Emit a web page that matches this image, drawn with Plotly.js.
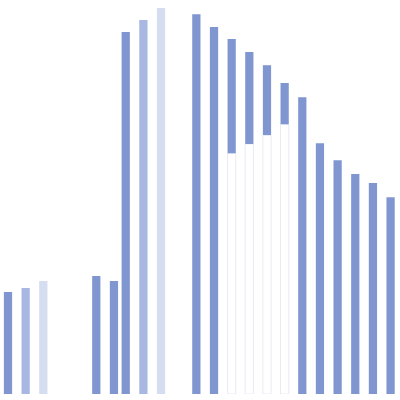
<!DOCTYPE html>
<html>
<head>
<meta charset="utf-8">
<script src="https://cdn.plot.ly/plotly-3.0.1.min.js"></script>
<style>
  html, body { margin: 0; padding: 0; background: #fff; }
  #chart { width: 400px; height: 400px; }
</style>
</head>
<body>
<div id="chart"></div>
<script>
// positions along the x axis (steps of 3 = one bar slot)
const xMain = [0, 15, 18, 20, 32, 35, 38, 41, 44, 47, 50, 53, 56, 59, 62, 65];
const mainTop = [26.4, 30.6, 29.3, 93.8, 98.4, 95.1, 92.0, 88.6, 85.2, 80.6, 76.9, 65.0, 60.6, 57.0, 54.7, 51.0];
const mainLow = [0, 0, 0, 0, 0, 0, 62.4, 64.8, 67.1, 69.9, 0, 0, 0, 0, 0, 0];

const xSecond = [3, 23];
const secondVals = [27.5, 96.9];

const xThird = [6, 26];
const thirdVals = [29.3, 100];

const barWidth = 1.4;

// invisible spacer under the floating bars, only its outline shows
const spacer = {
  type: 'bar',
  x: xMain,
  y: mainLow,
  width: barWidth,
  marker: { color: 'rgba(0,0,0,0)', line: { color: '#e9ebf4', width: 1 } },
  hoverinfo: 'skip',
};

const main = {
  type: 'bar',
  x: xMain,
  y: mainTop.map((v, i) => v - mainLow[i]),
  base: mainLow,
  width: barWidth,
  marker: { color: '#7f96d0' },
};

const second = {
  type: 'bar',
  x: xSecond,
  y: secondVals,
  width: barWidth,
  marker: { color: '#a9b8e2' },
};

const third = {
  type: 'bar',
  x: xThird,
  y: thirdVals,
  width: barWidth,
  marker: { color: '#d5ddf0' },
};

const layout = {
  width: 400,
  height: 400,
  margin: { t: 0, b: 6, l: 0, r: 0 },
  barmode: 'overlay',
  showlegend: false,
  paper_bgcolor: '#fff',
  plot_bgcolor: '#fff',
  xaxis: { visible: false, range: [-1.36, 66.6] },
  yaxis: { visible: false, range: [0, 102.1] },
};

Plotly.newPlot('chart', [spacer, main, second, third], layout, { displayModeBar: false, staticPlot: true });
</script>
</body>
</html>
